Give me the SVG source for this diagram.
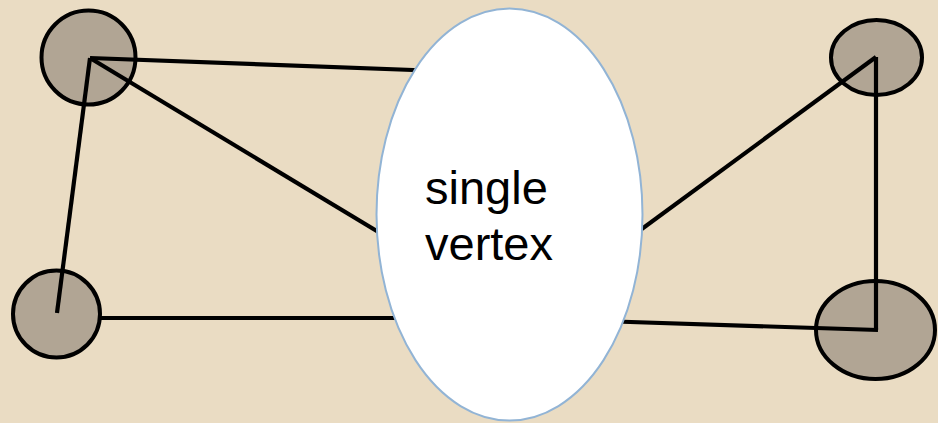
<svg xmlns="http://www.w3.org/2000/svg" width="938" height="423" viewBox="0 0 938 423">
<style>
.v{fill:#B1A594;stroke:#000;stroke-width:4}
.e{stroke:#000;stroke-width:4.2;fill:none}
.big{fill:#fff;stroke:#92B4D5;stroke-width:2}
.t{font-family:"Liberation Sans",Arial,sans-serif;font-size:47px;fill:#000}
</style>
<rect width="938" height="423" fill="#EADCC3"/>
<g id="n-tl"><circle class="v" cx="88.5" cy="57.5" r="47"/></g>
<g id="n-bl"><circle class="v" cx="56.5" cy="314" r="43.5"/></g>
<g id="n-tr"><ellipse class="v" cx="876.5" cy="57.5" rx="45.5" ry="37.5"/></g>
<g id="n-br"><ellipse class="v" cx="875.5" cy="330" rx="59.5" ry="49"/></g>
<g id="edges">
<line class="e" x1="90" y1="58" x2="440" y2="71"/>
<line class="e" x1="90" y1="58" x2="400" y2="245"/>
<line class="e" x1="90" y1="58" x2="57" y2="313"/>
<line class="e" x1="101" y1="318" x2="420" y2="318"/>
<line class="e" x1="876" y1="57" x2="620" y2="245"/>
<line class="e" x1="876" y1="57" x2="876" y2="330"/>
<line class="e" x1="878" y1="330" x2="600" y2="321"/>
</g>
<g id="n-single">
<ellipse class="big" cx="509.5" cy="214.5" rx="133" ry="206"/>
<text class="t" x="425" y="204">single</text>
<text class="t" x="425" y="260">vertex</text>
</g>
</svg>
